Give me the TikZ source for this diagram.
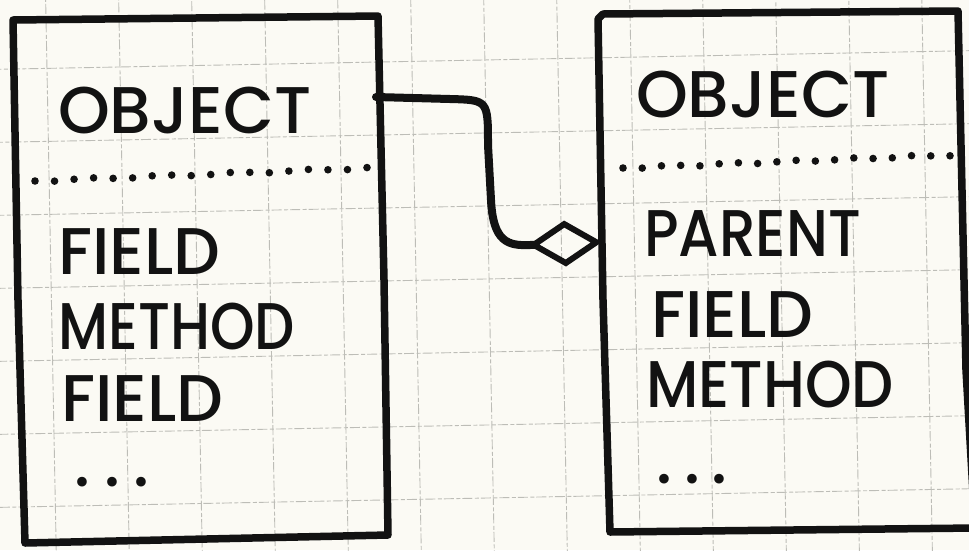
\documentclass[tikz,border=0pt]{standalone}
\usepackage{fontspec}
\newfontfamily\hand{Poppins Medium}
\usetikzlibrary{calc,arrows.meta}
\definecolor{paper}{HTML}{FBFAF4}
\definecolor{gridline}{HTML}{BDBDB7}
\definecolor{ink}{HTML}{121212}

\begin{document}
\begin{tikzpicture}[x=1pt,y=-1pt,
  sheet/.style={draw=ink, line width=7.5pt, line join=round, line cap=round},
  gridrule/.style={draw=gridline, line width=0.9pt, dash pattern=on 10pt off 2.5pt on 4pt off 2pt},
  entry/.style={font=\hand\fontsize{66}{66}\selectfont, text=ink, anchor=base west, inner sep=0pt},
  ellip/.style={font=\hand\fontsize{66}{66}\selectfont, text=ink, anchor=base west, inner sep=0pt},
  inkdot/.style={fill=ink, draw=none},
  link/.style={draw=ink, line width=8pt, line cap=round, line join=round}]

% paper
\useasboundingbox (0,0) rectangle (969,550);
\fill[paper] (0,0) rectangle (969,550);
\clip (0,0) rectangle (969,550);

% squared paper, slightly askew
\begin{scope}[rotate around={1.1:(485,275)}]
  \foreach \k in {-8,...,8} {
    \draw[gridrule] (489+73*\k,-60) -- (489+73*\k,620);
  }
  \foreach \k in {-4,...,6} {
    \draw[gridrule] (-60,206+73*\k) -- (1040,206+73*\k);
  }
\end{scope}

% ---- first object ----
\draw[sheet] (13,20) -- (378,16) -- (384,280) -- (388,535) -- (25,543) -- (18,300) -- cycle;
\node[entry] (a-title)  at (58,133) {OBJECT};
\foreach \i in {0,...,17} {
  \fill[inkdot] ($(35,181)!\i/17!(367,168)$) ++(0,{0.9*sin(\i*97)}) circle (3.8);
}
\node[entry] (a-f1) at (58,274) {FIELD};
\node[entry] (a-m1) at (58,349) {\scalebox{0.86}[1]{METHOD}};
\node[entry] (a-f2) at (61,421) {FIELD};
\node[ellip] (a-more) at (74,486) {.\hspace{14pt}.\hspace{14pt}.};

% ---- second object ----
\draw[sheet] (598,19) -- (603,14) -- (958,11) -- (966,370) -- (975,528) -- (610,532) -- (603,300) -- cycle;
\node[entry] (b-title)  at (636,117) {OBJECT};
\foreach \i in {0,...,17} {
  \fill[inkdot] ($(623,168)!\i/17!(950,155)$) ++(0,{0.9*sin(\i*113)}) circle (3.8);
}
\node[entry] (b-parent) at (644,256) {\scalebox{0.88}[1]{PARENT}};
\node[entry] (b-f1) at (651,337) {FIELD};
\node[entry] (b-m1) at (646,407) {\scalebox{0.9}[1]{METHOD}};
\node[ellip] (b-more) at (656,483) {.\hspace{12pt}.\hspace{12pt}.};

% ---- aggregation link ----
\coordinate (a-port) at (376,97);
\coordinate (b-port) at (602,242);
\draw[link, -{Diamond[open, length=74pt, width=46pt, line width=6pt]}]
  (a-port) -- (450,99) .. controls (488,100) .. (488,145)
  -- (491,200) .. controls (493,242) and (508,246) .. (530,245) -- (b-port);
\end{tikzpicture}
\end{document}
